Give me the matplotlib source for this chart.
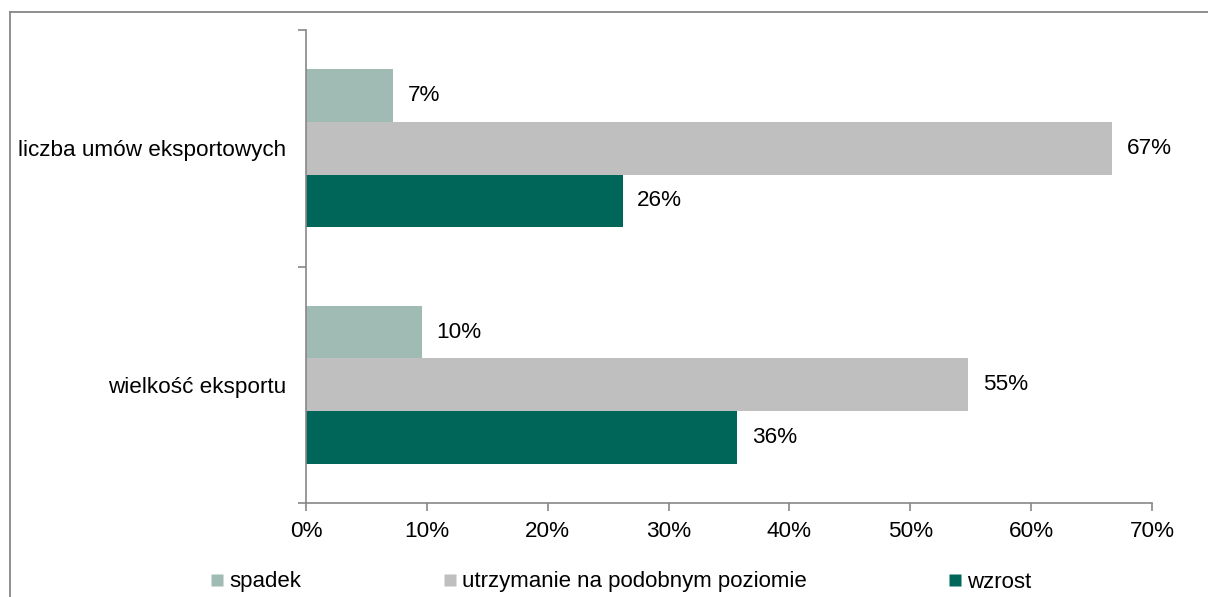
import matplotlib
matplotlib.use("Agg")
import matplotlib.pyplot as plt
from matplotlib.lines import Line2D
import numpy as np

plt.rcParams['font.family'] = ['Liberation Sans', 'DejaVu Sans']

categories = ["liczba umów eksportowych", "wielkość eksportu"]
series_names = ["spadek", "utrzymanie na podobnym poziomie", "wzrost"]
spadek = [7.2, 9.6]
utrzymanie = [66.7, 54.8]
wzrost = [26.2, 35.7]
x_ticks = [0, 10, 20, 30, 40, 50, 60, 70]

colors = ["#A0BAB4", "#BFBFBF", "#00665A"]
axis_gray = "#878787"

W, H = 1208, 597
fig = plt.figure(figsize=(W / 100, H / 100), dpi=100)
fig.patch.set_facecolor("white")

ax = fig.add_axes([306 / W, 1 - 503 / H, (1152 - 306) / W, (503 - 30) / H])

# category centres: first category at the top
centers = np.array([1.5, 0.5])
bar_h = 0.222
offsets = [bar_h, 0.0, -bar_h]
all_series = [spadek, utrzymanie, wzrost]

for vals, off, col, name in zip(all_series, offsets, colors, series_names):
    bars = ax.barh(centers + off, vals, height=bar_h, color=col, label=name,
                   edgecolor="none")
    ax.bar_label(bars, labels=[f"{v:.0f}%" for v in vals], padding=10.5,
                 fontsize=16.2, color="black")

ax.set_xlim(0, 70)
ax.set_ylim(0, 2)
ax.set_xticks(x_ticks)
ax.set_xticklabels([f"{t}%" for t in x_ticks], fontsize=16.2)
ax.tick_params(axis="x", direction="out", length=6, width=1.2, color=axis_gray,
               pad=7)

ax.set_yticks([0, 1, 2])
ax.set_yticklabels([])
ax.tick_params(axis="y", which="major", direction="out", length=6, width=1.2,
               color=axis_gray)
ax.set_yticks(centers, minor=True)
ax.set_yticklabels(categories, minor=True, fontsize=16.2)
ax.tick_params(axis="y", which="minor", length=0, pad=14.5)

for side in ["top", "right"]:
    ax.spines[side].set_visible(False)
for side in ["left", "bottom"]:
    ax.spines[side].set_color(axis_gray)
    ax.spines[side].set_linewidth(1.2)

# legend row along the bottom
handles = [Line2D([0], [0], marker="s", linestyle="none", markersize=9,
                  markerfacecolor=c, markeredgecolor="none") for c in colors]
fig.legend(handles, series_names, loc="center left",
           bbox_to_anchor=(211 / W, 1 - 582 / H), ncol=3, frameon=False,
           fontsize=16, handlelength=0.57, handletextpad=0.25,
           columnspacing=6.4, borderpad=0, borderaxespad=0)

# outer frame (left and top edges)
fig.add_artist(Line2D([10 / W, 10 / W], [0, 1 - 12 / H], transform=fig.transFigure,
                      color=axis_gray, linewidth=1.3))
fig.add_artist(Line2D([10 / W, 1], [1 - 12 / H, 1 - 12 / H], transform=fig.transFigure,
                      color=axis_gray, linewidth=1.3))

fig.savefig("out.png", dpi=100, facecolor="white")
